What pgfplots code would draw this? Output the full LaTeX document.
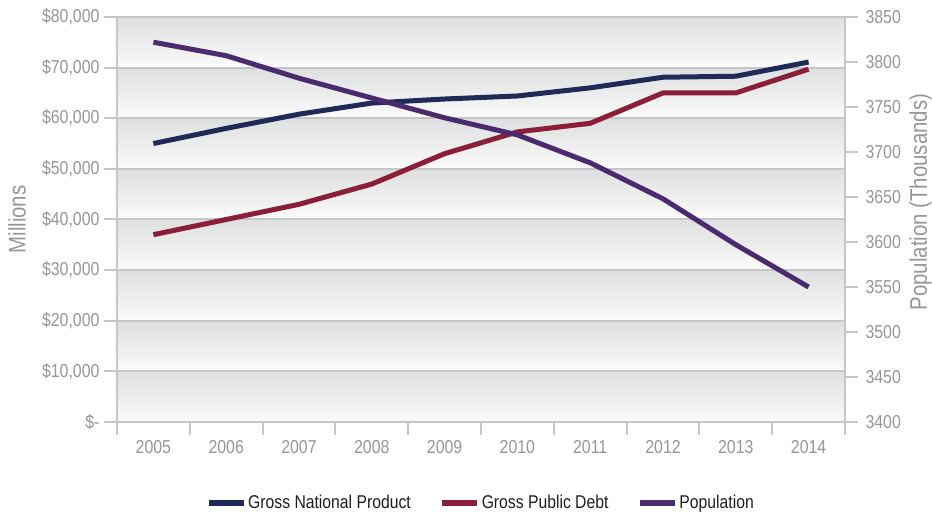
\documentclass[border=0pt]{standalone}
\usepackage{pgfplots}
\pgfplotsset{compat=1.18}
\usepackage{fontspec}
\setmainfont[FakeStretch=0.85]{Liberation Sans}

\definecolor{gnp}{RGB}{31,42,86}
\definecolor{debt}{RGB}{139,30,56}
\definecolor{pop}{RGB}{76,42,110}
\definecolor{txt}{RGB}{150,150,150}
\definecolor{legtxt}{RGB}{30,30,30}
\definecolor{gridc}{RGB}{198,198,198}
\definecolor{bandtop}{RGB}{222,223,224}
\definecolor{bandbot}{RGB}{251,251,251}

\newcommand\tickfont{\fontsize{18.7bp}{20bp}\selectfont}
\newcommand\labfont{\fontsize{24bp}{26bp}\selectfont}
\newcommand\legfont{\fontsize{18.5bp}{20bp}\selectfont}

\pgfplotsset{
  base/.style={
    scale only axis, width=728bp, height=405bp,
    xmin=-0.5, xmax=9.5,
    tick align=outside, major tick length=13bp,
    axis line style={gridc, line width=2bp},
    tick style={gridc, line width=2bp},
    ticklabel style={font=\tickfont, text=txt},
    label style={font=\labfont, text=txt},
    /pgf/number format/assume math mode=true,
    /pgf/number format/1000 sep={},
  },
  series/.style={#1, line width=5bp, line join=round},
}

\begin{document}
\begin{tikzpicture}
\begin{axis}[base, set layers,
  axis y line*=left, axis x line*=bottom,
  ymin=0, ymax=80000,
  ytick={0,10000,20000,30000,40000,50000,60000,70000,80000},
  yticklabels={{\$-},{\$10,000},{\$20,000},{\$30,000},{\$40,000},{\$50,000},{\$60,000},{\$70,000},{\$80,000}},
  scaled y ticks=false,
  yticklabel style={xshift=-1bp},
  ymajorgrids, grid style={gridc, line width=2bp},
  xtick={-0.5,0.5,...,9.5}, xticklabels={},
  extra x ticks={0,1,2,3,4,5,6,7,8,9},
  extra x tick labels={2005,2006,2007,2008,2009,2010,2011,2012,2013,2014},
  extra x tick style={major tick length=0pt, xticklabel style={yshift=-15bp}},
  ylabel={Millions},
  ylabel style={at={(rel axis cs:-0.1374,0.5)}, anchor=center},
]
\begin{pgfonlayer}{axis background}
\fill[top color=bandtop, bottom color=bandbot] (axis cs:-0.5,0) rectangle (axis cs:9.5,10000);
\fill[top color=bandtop, bottom color=bandbot] (axis cs:-0.5,10000) rectangle (axis cs:9.5,20000);
\fill[top color=bandtop, bottom color=bandbot] (axis cs:-0.5,20000) rectangle (axis cs:9.5,30000);
\fill[top color=bandtop, bottom color=bandbot] (axis cs:-0.5,30000) rectangle (axis cs:9.5,40000);
\fill[top color=bandtop, bottom color=bandbot] (axis cs:-0.5,40000) rectangle (axis cs:9.5,50000);
\fill[top color=bandtop, bottom color=bandbot] (axis cs:-0.5,50000) rectangle (axis cs:9.5,60000);
\fill[top color=bandtop, bottom color=bandbot] (axis cs:-0.5,60000) rectangle (axis cs:9.5,70000);
\fill[top color=bandtop, bottom color=bandbot] (axis cs:-0.5,70000) rectangle (axis cs:9.5,80000);
\end{pgfonlayer}
% Gross National Product
\addplot[series=gnp] coordinates {
(0,55000) (1,58000) (2,60800) (3,63000) (4,63800)
(5,64400) (6,66000) (7,68100) (8,68300) (9,71100)
};
% Gross Public Debt
\addplot[series=debt] coordinates {
(0,37000) (1,40000) (2,43000) (3,47000) (4,53000)
(5,57300) (6,59000) (7,65000) (8,65000) (9,69700)
};
\end{axis}

\begin{axis}[base,
  axis y line*=right, axis x line=none,
  ymin=3400, ymax=3850,
  ytick={3400,3450,3500,3550,3600,3650,3700,3750,3800,3850},
  yticklabel style={xshift=4bp},
  ylabel={Population (Thousands)},
  ylabel style={at={(rel axis cs:1.104,0.543)}, anchor=center},
  legend columns=3,
  legend style={at={(0.5,-0.2)}, anchor=center, draw=none, fill=none,
    font=\legfont, text=legtxt,
    /tikz/every even column/.append style={column sep=27bp}},
  legend image code/.code={\draw[#1] (0bp,0bp) -- (35bp,0bp);},
]
\addlegendimage{series=gnp}
\addlegendentry{Gross National Product}
\addlegendimage{series=debt}
\addlegendentry{Gross Public Debt}
% Population
\addplot[series=pop] coordinates {
(0,3822) (1,3807) (2,3782) (3,3760) (4,3738)
(5,3719) (6,3688) (7,3648) (8,3597) (9,3550)
};
\addlegendentry{Population}
\end{axis}
\pgfresetboundingbox
\path (-117bp,-92bp) rectangle (815bp,422bp);
\end{tikzpicture}
\end{document}
